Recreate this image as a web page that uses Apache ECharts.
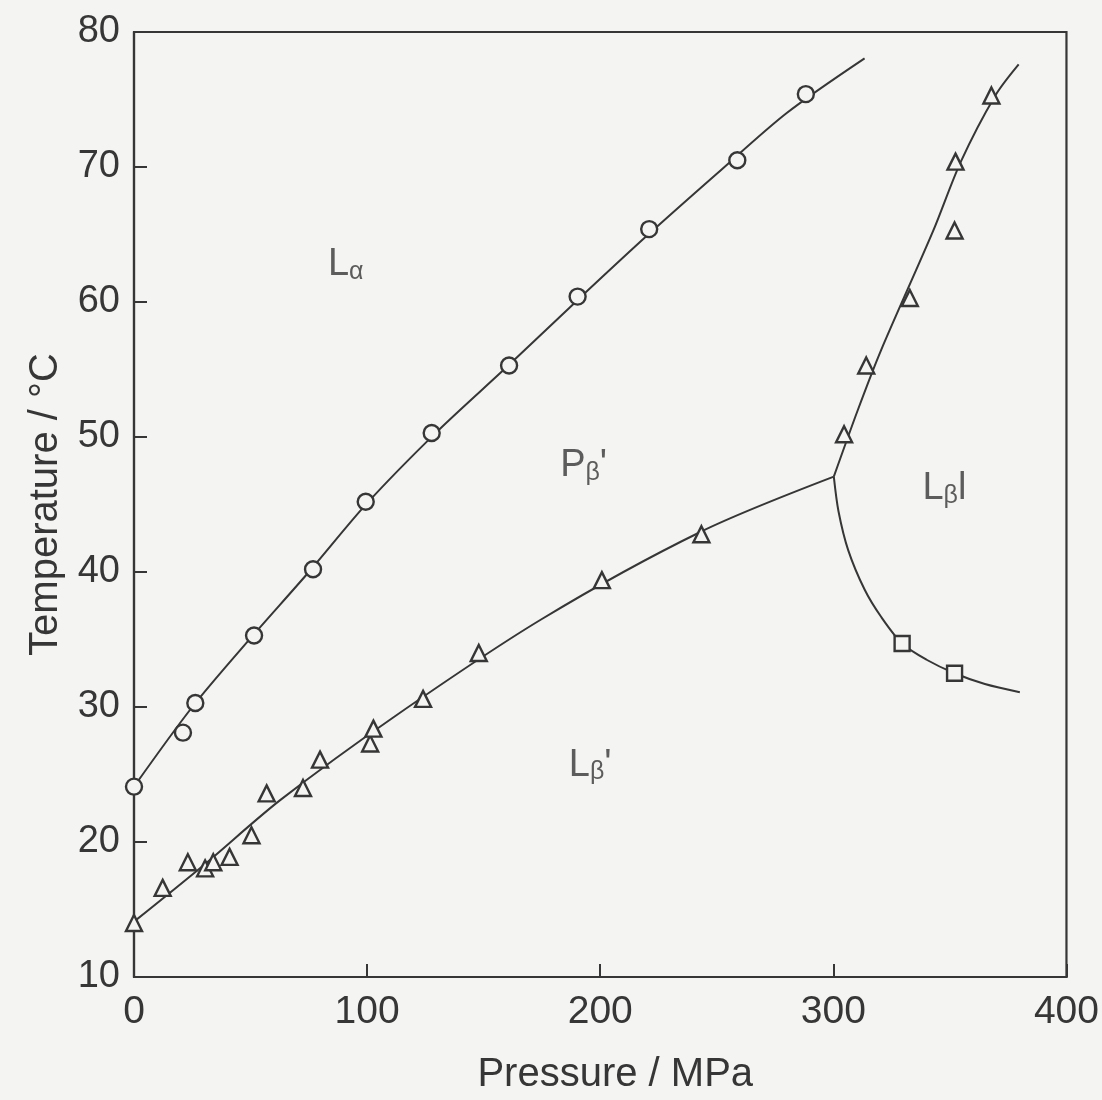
<!DOCTYPE html>
<html>
<head>
<meta charset="utf-8">
<script src="https://cdn.jsdelivr.net/npm/echarts@6/dist/echarts.min.js"></script>
<style>
html,body{margin:0;padding:0;background:#f4f4f2;}
#chart{width:1102px;height:1100px;}
</style>
</head>
<body>
<div id="chart"></div>
<script>
// ---- data (pressure / MPa, temperature / °C) ----
// Lα / Pβ' transition (open circles)
const circleP = [0, 21, 26.3, 51.5, 76.8, 99.4, 127.7, 160.9, 190.3, 221, 258.8, 288.2];
const circleT = [24.1, 28.1, 30.3, 35.3, 40.2, 45.2, 50.3, 55.3, 60.4, 65.4, 70.5, 75.4];
// fitted boundary through circles
const circleFitP = [0, 25, 50, 75, 100, 130, 160, 190, 220, 250, 280, 313.4];
const circleFitT = [24.1, 30.0, 35.1, 40.0, 45.1, 50.4, 55.2, 60.1, 64.9, 69.5, 74.0, 78.05];

// Lβ' / Pβ' transition (triangles, lower branch)
const lowTriP = [0, 12.3, 23.1, 30.5, 34, 41, 50.4, 56.9, 72.5, 79.8, 101.3, 102.7, 124, 147.9, 200.7, 243.4];
const lowTriT = [14.0, 16.6, 18.5, 18.05, 18.5, 18.9, 20.5, 23.6, 24.0, 26.1, 27.3, 28.4, 30.6, 34.0, 39.4, 42.8];
const lowFitP = [0, 30, 62.7, 111.8, 174.8, 243.4, 300.2];
const lowFitT = [14.1, 18.3, 23.1, 29.3, 36.5, 43.0, 47.06];

// Lα / Lβl transition (triangles, upper branch)
const upTriP = [304.6, 314.1, 332.8, 352, 352.4, 367.8];
const upTriT = [50.2, 55.3, 60.3, 65.3, 70.4, 75.3];
const upFitP = [300.2, 310.5, 320.4, 342.9, 354.7, 369.5, 379.5];
const upFitT = [47.06, 52.0, 56.4, 65.3, 70.4, 75.3, 77.6];

// Lβ' / Lβl transition (squares)
const sqP = [329.5, 352];
const sqT = [34.7, 32.5];
const sqFitP = [300.2, 302.2, 306.4, 313.4, 320.4, 329.5, 340, 352, 365, 380];
const sqFitT = [47.06, 44.5, 41.6, 38.7, 36.7, 34.7, 33.5, 32.5, 31.7, 31.1];

// phase labels: [P, T, main letter, subscript, suffix]
const phaseLabels = [
  [83.2, 62.8, 'L', 'α', ''],
  [182.8, 47.9, 'P', 'β', '\''],
  [338.2, 46.2, 'L', 'β', 'l'],
  [186.5, 25.7, 'L', 'β', '\'']
];

const xTicks = [0, 100, 200, 300, 400];
const yTicks = [10, 20, 30, 40, 50, 60, 70, 80];

// ---- build ----
const zip = (a, b) => a.map((v, i) => [v, b[i]]);
const INK = '#363636';
const BG = '#f4f4f2';
const FONT = '"Liberation Sans", Arial, sans-serif';

const lineSeries = (p, t) => ({
  type: 'line', data: zip(p, t), smooth: 0.3,
  showSymbol: false, symbol: 'none', silent: true,
  lineStyle: { color: INK, width: 2 }, z: 2
});
const pointSeries = (p, t, symbol, size) => ({
  type: 'scatter', data: zip(p, t), symbol: symbol, symbolSize: size,
  itemStyle: { color: BG, borderColor: INK, borderWidth: 2.4, opacity: 1 }, z: 3
});

const chart = echarts.init(document.getElementById('chart'), null, { renderer: 'canvas' });
chart.setOption({
  backgroundColor: BG,
  animation: false,
  textStyle: { fontFamily: FONT },
  grid: { left: 134, right: 15, top: 32, bottom: 123, show: true, borderColor: INK, borderWidth: 2.2, backgroundColor: 'transparent' },
  xAxis: {
    type: 'value', min: xTicks[0], max: xTicks[xTicks.length - 1], interval: 100,
    name: 'Pressure / MPa', nameLocation: 'middle', nameGap: 78,
    nameTextStyle: { fontSize: 40, color: INK, fontFamily: FONT, padding: [0, 0, 0, 30] },
    axisLine: { show: true, lineStyle: { color: INK, width: 2.2 } },
    axisTick: { show: true, inside: true, length: 13, lineStyle: { color: INK, width: 2 } },
    axisLabel: { fontSize: 39, color: INK, margin: 16, fontFamily: FONT },
    splitLine: { show: false }
  },
  yAxis: {
    type: 'value', min: yTicks[0], max: yTicks[yTicks.length - 1], interval: 10,
    name: 'Temperature / °C', nameLocation: 'middle', nameGap: 68, nameRotate: 90,
    nameTextStyle: { fontSize: 40, color: INK, fontFamily: FONT },
    axisLine: { show: true, lineStyle: { color: INK, width: 2.2 } },
    axisTick: { show: true, inside: true, length: 13, lineStyle: { color: INK, width: 2 } },
    axisLabel: { fontSize: 38, color: INK, margin: 14, fontFamily: FONT },
    splitLine: { show: false }
  },
  series: [
    lineSeries(circleFitP, circleFitT),
    lineSeries(lowFitP, lowFitT),
    lineSeries(upFitP, upFitT),
    lineSeries(sqFitP, sqFitT),
    pointSeries(circleP, circleT, 'circle', 16),
    pointSeries(lowTriP, lowTriT, 'triangle', 16),
    pointSeries(upTriP, upTriT, 'triangle', 16),
    pointSeries(sqP, sqT, 'rect', 15),
    {
      type: 'scatter', symbolSize: 0, silent: true, z: 4,
      data: phaseLabels.map(d => ({ value: [d[0], d[1]], name: d[2], sub: d[3], suf: d[4] })),
      label: {
        show: true, position: [0, 0], align: 'left', verticalAlign: 'middle',
        formatter: p => '{m|' + p.data.name + '}{s|' + p.data.sub + '}{m|' + p.data.suf + '}',
        rich: {
          m: { fontSize: 38, color: INK, fontFamily: FONT, lineHeight: 40, verticalAlign: 'middle' },
          s: { fontSize: 25, color: INK, fontFamily: FONT, lineHeight: 4, verticalAlign: 'bottom' }
        }
      }
    }
  ]
});
</script>
</body>
</html>
